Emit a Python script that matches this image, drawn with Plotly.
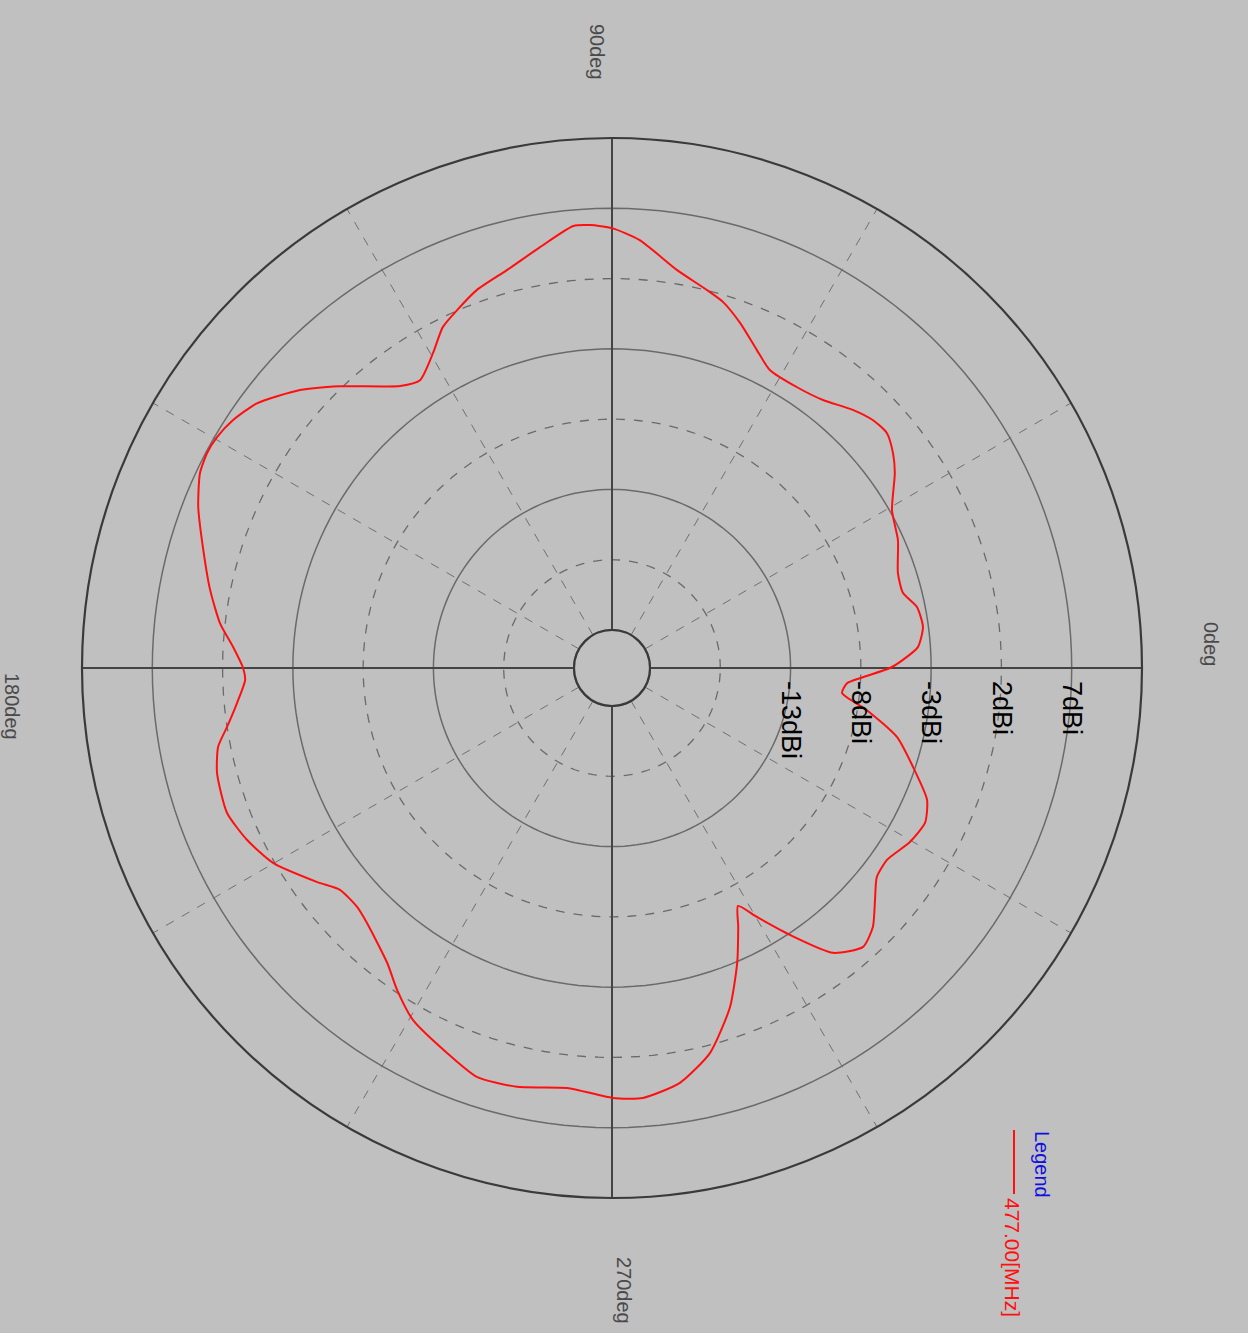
import plotly.graph_objects as go

# ---- data (angle in deg, gain in dBi) ----
theta_deg = [0, 1.6, 3.9, 7.5, 11.3, 14.5, 18.4, 24.1, 29.4, 34.6, 37.4, 40.5, 43.5, 47.0,
             51.8, 56.6, 62.1, 65.5, 69.6, 73.1, 75.9, 80.7, 86.3, 90.0, 92.8, 95.0, 99.7,
             104.8, 109.7, 113.4, 116.4, 119.6, 123.7, 126.9, 134.0, 138.3, 143.3, 146.8,
             149.7, 152.0, 154.7, 158.7, 162.7, 169.0, 173.5, 176.8, 180.0, 181.9, 185.3,
             188.7, 191.3, 194.9, 200.6, 205.2, 209.9, 216.0, 219.2, 223.1, 226.1, 232.7,
             236.3, 240.5, 246.8, 251.7, 257.2, 263.9, 270.1, 274.1, 279.3, 284.3, 289.2,
             293.0, 296.0, 297.9, 300.2, 303.7, 307.8, 312.0, 315.2, 318.6, 321.7, 325.1,
             329.7, 333.7, 337.3, 341.8, 346.4, 350.6, 353.8, 356.3, 357.9, 360.0]
gain_dbi = [-5.93, -5.0, -3.89, -3.39, -3.58, -4.33, -4.27, -3.42, -2.84, -1.26, -0.54, 0.02,
            -0.1, -0.59, -1.44, -1.78, -1.71, -0.85, 0.47, 1.5, 2.02, 2.98, 4.8, 5.59, 5.84,
            5.86, 4.67, 3.57, 2.85, 2.04, 1.37, 0.07, -1.09, -0.61, 2.16, 4.02, 5.8, 6.51,
            6.84, 6.91, 6.72, 5.89, 4.85, 3.42, 2.36, 1.3, 0.54, 0.41, 1.08, 2.0, 2.87, 3.37,
            3.56, 3.0, 2.11, 0.21, -0.73, -0.85, -0.55, 0.68, 1.84, 3.06, 4.09, 4.93, 4.85,
            4.34, 4.88, 4.96, 4.2, 2.55, -0.17, -2.91, -5.22, -6.55, -5.21, -2.88, -0.06,
            0.99, 0.45, -0.76, -1.7, -1.85, -1.16, -0.86, -1.41, -3.16, -4.85, -7.32, -9.24,
            -8.95, -7.84, -5.93]

r_min, r_max = -23, 12
tick_vals = [-13, -8, -3, 2, 7]
tick_text = ["-13dBi", "-8dBi", "-3dBi", "2dBi", "7dBi"]
solid_rings = [-13, -3, 7]
dashed_rings = [-18, -8, 2]
cardinal = [0, 90, 180, 270]
spokes = list(range(0, 360, 30))
angle_labels = ["0deg", "90deg", "180deg", "270deg"]
legend_name = "477.00[MHz]"

W, H = 1248, 1333
circle_t = list(range(0, 361, 2))

fig = go.Figure()

for rv in dashed_rings:
    fig.add_trace(go.Scatterpolar(r=[rv] * len(circle_t), theta=circle_t, mode="lines",
                                  line=dict(color="#6a6a6a", width=1.3, dash="dash"),
                                  hoverinfo="skip", showlegend=False, cliponaxis=False))
for rv in solid_rings:
    fig.add_trace(go.Scatterpolar(r=[rv] * len(circle_t), theta=circle_t, mode="lines",
                                  line=dict(color="#6a6a6a", width=1.5),
                                  hoverinfo="skip", showlegend=False, cliponaxis=False))
# inner circle
fig.add_trace(go.Scatterpolar(r=[r_min] * len(circle_t), theta=circle_t, mode="lines",
                              line=dict(color="#4a4a4a", width=2),
                              hoverinfo="skip", showlegend=False, cliponaxis=False))
for a in cardinal:
    fig.add_trace(go.Scatterpolar(r=[r_min, r_max], theta=[a, a], mode="lines",
                                  line=dict(color="#444444", width=2),
                                  hoverinfo="skip", showlegend=False, cliponaxis=False))

fig.add_trace(go.Scatterpolar(r=gain_dbi, theta=theta_deg, mode="lines", name=legend_name,
                              line=dict(color="#ff1010", width=2, shape="spline", smoothing=0.6),
                              showlegend=False, cliponaxis=False))

cx0, cx1 = 82, 1142
cy0, cy1 = 138, 1198
fig.update_layout(
    width=W, height=H,
    margin=dict(l=0, r=0, t=0, b=0),
    paper_bgcolor="#c0c0c0",
    showlegend=False,
    polar=dict(
        domain=dict(x=[cx0 / W, cx1 / W], y=[1 - cy1 / H, 1 - cy0 / H]),
        bgcolor="#c0c0c0",
        hole=38 / 530,
        radialaxis=dict(range=[r_min, r_max], tickvals=tick_vals, ticktext=tick_text,
                        angle=0, tickangle=90, side="clockwise", showgrid=False,
                        showline=False, ticks="outside", ticklen=7,
                        tickcolor="rgba(0,0,0,0)",
                        tickfont=dict(family="Liberation Sans", size=27, color="#000000")),
        angularaxis=dict(rotation=0, direction="counterclockwise", tickvals=spokes,
                         showticklabels=False, ticks="", gridcolor="#707070",
                         griddash="dash", gridwidth=1.2, showline=True,
                         linecolor="#3a3a3a", linewidth=2.2),
    ),
)

# angle labels
label_pos = {"0deg": (1211, 644), "90deg": (597, 52), "180deg": (12, 706), "270deg": (624, 1290)}
for t in angle_labels:
    x, y = label_pos[t]
    fig.add_annotation(x=x / W, y=1 - y / H, xref="paper", yref="paper", text=t,
                       showarrow=False, textangle=90, xanchor="center", yanchor="middle",
                       font=dict(family="Liberation Sans", size=20, color="#4a4a4a"))

# legend
fig.add_annotation(x=1042 / W, y=1 - 1164 / H, xref="paper", yref="paper", text="Legend",
                   showarrow=False, textangle=90, xanchor="center", yanchor="middle",
                   font=dict(family="Liberation Sans", size=20, color="#1010e0"))
fig.add_annotation(x=1013 / W, y=1 - 1257 / H, xref="paper", yref="paper", text=legend_name,
                   showarrow=False, textangle=90, xanchor="center", yanchor="middle",
                   font=dict(family="Liberation Sans", size=21, color="#ff1010"))
fig.add_shape(type="line", xref="paper", yref="paper", x0=1014 / W, x1=1014 / W,
              y0=1 - 1130 / H, y1=1 - 1194 / H, line=dict(color="#ff1010", width=2))

fig.write_html("out.html",
               config={"displayModeBar": False},
               post_script="document.body.style.margin='0';"
                           "document.body.style.background='#c0c0c0';"
                           "document.body.style.overflow='hidden';")
